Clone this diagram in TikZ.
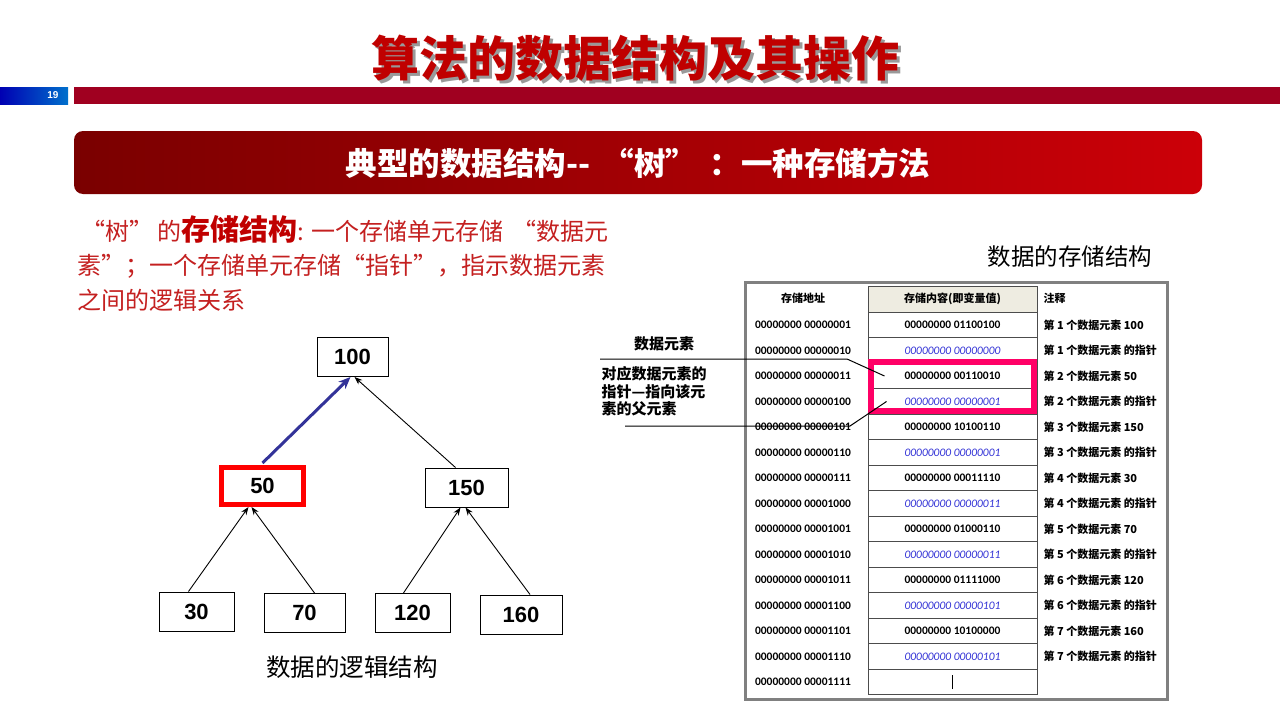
\documentclass[tikz,border=0pt]{standalone}
\usepackage{fontspec}
\setmainfont{Liberation Sans}
\newfontfamily\cjk{Noto Sans CJK SC}
\newfontfamily\calfont{Carlito}
\usetikzlibrary{arrows.meta,positioning,calc}
\definecolor{titlered}{RGB}{192,0,0}
\definecolor{barred}{RGB}{160,0,32}
\definecolor{bandleft}{RGB}{122,0,0}
\definecolor{bandright}{RGB}{204,0,8}
\definecolor{textred}{RGB}{196,32,32}
\definecolor{markpink}{RGB}{255,0,102}
\definecolor{arrowblue}{RGB}{51,51,153}
\definecolor{ptrblue}{RGB}{51,51,214}
\definecolor{headfill}{RGB}{238,236,225}
\newcommand{\shadowtext}[1]{\rlap{\kern3pt\raisebox{-3pt}{\color{black!40}#1}}#1}
\begin{document}
\begin{tikzpicture}[x=1pt,y=-1pt,
  treebox/.style={draw,line width=1pt,minimum height=39pt,inner sep=0pt,font=\bfseries\fontsize{22}{22}\selectfont},
  edge/.style={-{Stealth[length=8pt,width=6pt]},line width=0.9pt},
  cell/.style={draw=black!70,line width=0.9pt,minimum width=169pt,minimum height=25.5pt,inner sep=0pt},
  tbl/.style={font=\calfont\bfseries\fontsize{11.5}{12}\selectfont},
  note/.style={font=\cjk\bfseries\fontsize{11}{12}\selectfont,anchor=west},
  lbl/.style={font=\cjk\bfseries\fontsize{15}{17.5}\selectfont,align=left}]
  \useasboundingbox (0,0) rectangle (1280,720);
  \fill[white] (0,0) rectangle (1280,720);
  % Page title and bars
  \node[font=\cjk\bfseries\fontsize{48}{48}\selectfont,text=titlered] (title) at (635,60) {\shadowtext{算法的数据结构及其操作}};
  \shade[left color=blue!70!black,right color=blue!45!cyan!80!black] (0,87) rectangle (68,104);
  \node[text=white,font=\bfseries\fontsize{10}{10}\selectfont] (pgno) at (53,95.5) {19};
  \fill[barred] (74,87) rectangle (1280,104);
  \shade[left color=bandleft,right color=bandright,rounded corners=9] (74,131) rectangle (1202,194);
  \node[text=white,font=\cjk\bfseries\fontsize{31.5}{31}\selectfont] (band) at (638,163) {典型的数据结构-- \,“树”\, ：一种存储方法};
  % Text block
  \node[anchor=west,text=textred,font=\cjk\fontsize{24}{24}\selectfont] (line1) at (74,229)
    {\,“树”\,的{\color{titlered}\bfseries\fontsize{29}{29}\selectfont 存储结构}: 一个存储单元存储 \,“数据元};
  \node[anchor=west,text=textred,font=\cjk\fontsize{24}{24}\selectfont] (line2) at (74,266)
    {素”；一个存储单元存储“指针”，指示数据元素};
  \node[anchor=west,text=textred,font=\cjk\fontsize{24}{24}\selectfont] (line3) at (74,300)
    {之间的逻辑关系};
  % Logical structure (tree)
  \node[treebox,minimum width=71pt] (n100) at (352.5,357) {100};
  \node[treebox,minimum width=82pt,minimum height=37pt,draw=red,line width=5pt] (n50) at (262.5,486) {50};
  \node[treebox,minimum width=83pt] (n150) at (466.5,487.5) {150};
  \node[treebox,minimum width=75pt] (n30) at (196.5,611.5) {30};
  \node[treebox,minimum width=81pt] (n70) at (304.5,613) {70};
  \node[treebox,minimum width=75pt] (n120) at (412.5,613) {120};
  \node[treebox,minimum width=82pt] (n160) at (521,614.5) {160};
  \draw[edge] ([xshift=-8pt]n30.north) -- ([xshift=-14pt]n50.south);
  \draw[edge] ([xshift=10pt]n70.north) -- ([xshift=-11pt]n50.south);
  \draw[edge] ([xshift=-9pt]n120.north) -- ([xshift=-6pt]n150.south);
  \draw[edge] ([xshift=9pt]n160.north) -- ([xshift=-1pt]n150.south);
  \draw[edge] ([xshift=-11pt]n150.north) -- ([xshift=2pt]n100.south);
  \draw[arrowblue,line width=3pt,-{Stealth[length=12pt,width=10pt]}] ([yshift=2pt]n50.north) -- ([xshift=-2pt]n100.south);
  \node[font=\cjk\fontsize{24.5}{24}\selectfont] (logcap) at (352,667) {数据的逻辑结构};
  % Storage structure (table)
  \node[font=\cjk\fontsize{23.5}{24}\selectfont] (storecap) at (1070,257) {数据的存储结构};
  \draw[black!50,line width=3pt] (745.5,282.5) rectangle (1167.5,699.5);
  \node[cell,fill=headfill,minimum height=26pt,font=\cjk\bfseries\fontsize{11}{12}\selectfont] (head) at (952.5,299) {存储内容(即变量值)};
  \node[font=\cjk\bfseries\fontsize{11}{12}\selectfont] (headaddr) at (803,298) {存储地址};
  \node[note] (headnote) at (1040,298) {注释};
  \foreach \i/\addr/\val/\txt in {
      1/00000001/01100100/{第 1 个数据元素 100},
      2/00000010/00000000/{第 1 个数据元素 的指针},
      3/00000011/00110010/{第 2 个数据元素 50},
      4/00000100/00000001/{第 2 个数据元素 的指针},
      5/00000101/10100110/{第 3 个数据元素 150},
      6/00000110/00000001/{第 3 个数据元素 的指针},
      7/00000111/00011110/{第 4 个数据元素 30},
      8/00001000/00000011/{第 4 个数据元素 的指针},
      9/00001001/01000110/{第 5 个数据元素 70},
      10/00001010/00000011/{第 5 个数据元素 的指针},
      11/00001011/01111000/{第 6 个数据元素 120},
      12/00001100/00000101/{第 6 个数据元素 的指针},
      13/00001101/10100000/{第 7 个数据元素 160},
      14/00001110/00000101/{第 7 个数据元素 的指针},
      15/00001111//{}} {
    \pgfmathsetmacro\yy{325+(\i-1)*25.5}
    \node[tbl] (addr-\i) at (803,\yy) {00000000 \addr};
    \ifnum\i=15
      \node[cell] (val-\i) at (952.5,\yy) {};
      \draw[line width=1.2pt] ([yshift=-7pt]val-\i.center) -- ([yshift=7pt]val-\i.center);
    \else
      \ifodd\i
        \node[cell,tbl] (val-\i) at (952.5,\yy) {00000000 \val};
      \else
        \node[cell,font=\calfont\itshape\fontsize{11.5}{12}\selectfont,text=ptrblue] (val-\i) at (952.5,\yy) {00000000 \val};
      \fi
      \node[note] (note-\i) at (1040,\yy) {\txt};
    \fi
  }
  % Highlight of element 50 and its pointer
  \draw[markpink,line width=6pt] (871,362) rectangle (1034,411);
  \node[lbl] (elem) at (664,344) {数据元素};
  \node[lbl,anchor=north west] (ptr) at (598,363) {对应数据元素的\\指针—指向该元\\素的父元素};
  \coordinate (elemL) at (600,359);
  \coordinate (elemR) at ($(val-3.center)+(-68,0)$);
  \coordinate (ptrL) at (625,426);
  \coordinate (ptrR) at ($(val-4.center)+(-66,0)$);
  \draw[line width=1pt] (elemL) -- (847,359) -- (elemR);
  \draw[line width=1pt] (ptrL) -- (850,426) -- (ptrR);
\end{tikzpicture}
\end{document}
